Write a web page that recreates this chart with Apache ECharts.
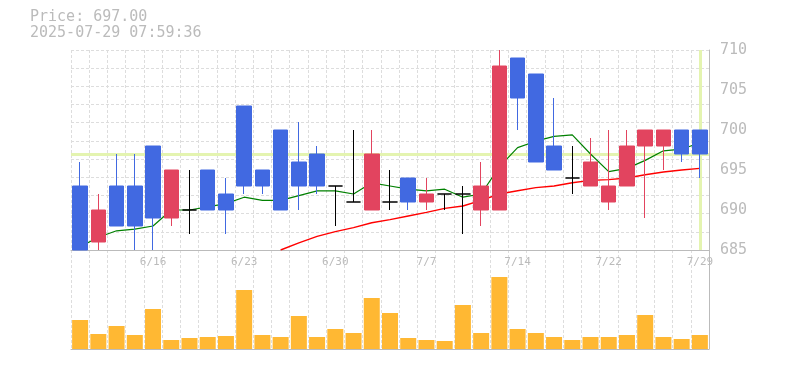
<!DOCTYPE html>
<html><head><meta charset="utf-8">
<script src="https://cdn.jsdelivr.net/npm/echarts@6/dist/echarts.min.js"></script>
<style>html,body{margin:0;padding:0;background:#fff}#c{width:785px;height:370px}</style>
</head><body><div id="c"></div>
<script>
const dates = ['6/10','6/11','6/12','6/13','6/16','6/17','6/18','6/19','6/20','6/23','6/24','6/25','6/26','6/27','6/30','7/1','7/2','7/3','7/4','7/7','7/8','7/9','7/10','7/11','7/14','7/15','7/16','7/17','7/18','7/22','7/23','7/24','7/25','7/28','7/29'];
const opens  = [693,686,693,693,698,689,690,695,692,703,695,700,696,697,693,691,690,691,694,691,692,692,690,690,709,707,698,694,693,691,693,698,698,700,700];
const closes = [685,690,688,688,689,695,690,690,690,693,693,690,693,693,693,691,697,691,691,692,692,692,693,708,704,696,695,694,696,693,698,700,700,697,697];
const lows   = [685,685,688,685,685,688,687,690,687,692,692,690,690,692,688,691,690,690,690,690,690,687,688,690,700,696,695,692,693,690,693,689,695,696,694];
const highs  = [696,692,697,697,698,695,695,695,694,703,695,700,701,698,693,700,700,695,694,694,692,693,696,710,709,707,704,698,699,700,700,700,700,700,700];
const volumes = [29,15,23,14,40,9,11,12,13,59,14,12,33,12,20,16,51,36,11,9,8,44,16,72,20,16,12,9,12,12,14,34,12,10,14];
const ma5 = [685.4,686.6,687.4,687.6,688.0,690.0,690.0,690.4,690.8,691.6,691.2,691.2,691.8,692.4,692.4,692.0,693.4,693.0,692.6,692.4,692.6,691.6,692.0,695.4,697.8,698.6,699.2,699.4,697.0,694.8,695.2,696.2,697.4,697.6,698.4];
const ma25 = [null,null,null,null,null,null,null,null,null,null,null,685.0,685.9,686.7,687.3,687.8,688.4,688.8,689.25,689.7,690.2,690.5,691.2,692.0,692.4,692.8,693.0,693.4,693.7,693.8,694.0,694.4,694.75,695.0,695.2];
const tickLabels = ['6/16','6/23','6/30','7/7','7/14','7/22','7/29'];
const lastPrice = 697.00;
const lastDate = '7/29';
const priceText = 'Price: 697.00';
const timeText = '2025-07-29 07:59:36';

const MONO = 'DejaVu Sans Mono';
const GRAY = '#bbbbbb';
const UP = '#e2445f', DOWN = '#4169e1';

const chart = echarts.init(document.getElementById('c'), null, {renderer: 'canvas'});
chart.setOption({
  animation: false,
  backgroundColor: '#ffffff',
  graphic: [
    {type: 'text', left: 30, top: 10, style: {text: priceText, fill: GRAY, font: '15px "' + MONO + '"'}},
    {type: 'text', left: 30, top: 26, style: {text: timeText, fill: GRAY, font: '15px "' + MONO + '"'}}
  ],
  grid: [
    {left: 71, width: 638, top: 50, height: 200},
    {left: 71, width: 638, top: 269, height: 80},
    {left: 71, width: 638, top: 50, height: 299}
  ],
  xAxis: [
    {type: 'category', gridIndex: 0, data: dates, boundaryGap: true,
     axisLine: {lineStyle: {color: GRAY, width: 1}}, axisTick: {show: false},
     axisLabel: {interval: (i, v) => tickLabels.indexOf(v) >= 0, color: GRAY, fontFamily: MONO, fontSize: 11, margin: 7},
     splitLine: {show: false}},
    {type: 'category', gridIndex: 1, data: dates, boundaryGap: true,
     axisLine: {lineStyle: {color: GRAY, width: 1}}, axisTick: {show: false}, axisLabel: {show: false}, splitLine: {show: false}},
    {type: 'category', gridIndex: 2, data: dates, boundaryGap: true,
     axisLine: {show: false}, axisTick: {show: false}, axisLabel: {show: false},
     splitLine: {show: true, interval: 0, lineStyle: {color: '#dddddd', width: 1, type: [3, 2]}}}
  ],
  yAxis: [
    {type: 'value', gridIndex: 0, position: 'right', min: 685, max: 710, interval: 5,
     axisLine: {show: false}, axisTick: {show: false}, splitLine: {show: false},
     axisLabel: {color: GRAY, fontFamily: MONO, fontSize: 15, margin: 11, padding: [5, 0, 0, 0]}},
    {type: 'value', gridIndex: 0, position: 'left', min: 0, max: 11, interval: 1,
     axisLine: {show: false}, axisTick: {show: false}, axisLabel: {show: false},
     splitLine: {show: true, lineStyle: {color: '#dddddd', width: 1, type: [3, 2]}}},
    {type: 'value', gridIndex: 1, min: 0, max: 80, show: false, splitLine: {show: false}},
    {type: 'value', gridIndex: 2, position: 'right', min: 0, max: 1,
     axisLine: {show: true, lineStyle: {color: GRAY, width: 1}}, axisTick: {show: false},
     axisLabel: {show: false}, splitLine: {show: false}}
  ],
  series: [
    {type: 'line', xAxisIndex: 0, yAxisIndex: 0, data: [], z: 1, silent: true,
     markLine: {silent: true, z: 1, symbol: ['none', 'none'], label: {show: false},
       lineStyle: {color: '#e4f4b0', width: 3, type: 'solid'},
       data: [{yAxis: lastPrice}, {xAxis: lastDate}]}},
    {type: 'line', xAxisIndex: 0, yAxisIndex: 0, data: ma25, showSymbol: false, z: 2,
     lineStyle: {color: '#ff0000', width: 1.4}},
    {type: 'line', xAxisIndex: 0, yAxisIndex: 0, data: ma5, showSymbol: false, z: 2,
     lineStyle: {color: '#008000', width: 1.2}},
    {type: 'candlestick', xAxisIndex: 0, yAxisIndex: 0, z: 10, barWidth: 15,
     data: dates.map((d, i) => [opens[i], closes[i], lows[i], highs[i]]),
     itemStyle: {color: UP, color0: DOWN, borderColor: UP, borderColor0: DOWN, borderColorDoji: '#000000', borderWidth: 1}},
    {type: 'bar', xAxisIndex: 1, yAxisIndex: 2, data: volumes, barWidth: 16,
     itemStyle: {color: '#ffb833'}}
  ]
});
</script></body></html>
